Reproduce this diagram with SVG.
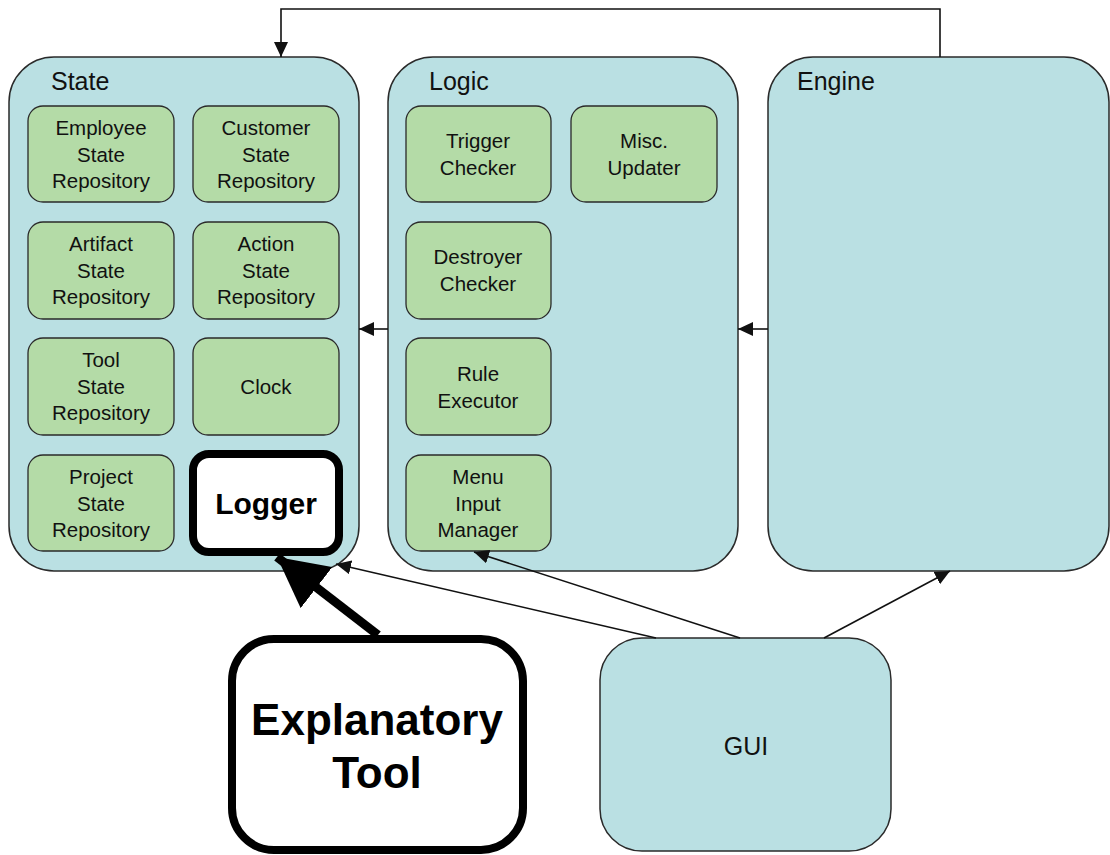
<svg xmlns="http://www.w3.org/2000/svg" width="1110" height="855" viewBox="0 0 1110 855">
<style>
.cont{fill:#bae0e3;stroke:#2a2a2a;stroke-width:1.5}
.box{fill:#b4dba7;stroke:#2a2a2a;stroke-width:1.3}
.hdr{font-family:"Liberation Sans",Arial,sans-serif;font-size:25px;fill:#111}
.t{font-family:"Liberation Sans",Arial,sans-serif;font-size:20.5px;fill:#111;text-anchor:middle}
.big{font-family:"Liberation Sans",Arial,sans-serif;font-weight:bold;fill:#000;text-anchor:middle}
.ln{fill:none;stroke:#111;stroke-width:1.6}
</style>
<defs>
<marker id="arr" markerUnits="userSpaceOnUse" markerWidth="16" markerHeight="14" refX="15" refY="7" orient="auto">
<path d="M0,0 L15,7 L0,14 z" fill="#111"/>
</marker>
<marker id="arrBig" markerUnits="userSpaceOnUse" markerWidth="52" markerHeight="52" refX="50" refY="26" orient="auto">
<path d="M0,0 L50,26 L0,52 z" fill="#000"/>
</marker>
</defs>
<rect width="1110" height="855" fill="#fff"/>

<g id="state">
<rect class="cont" x="9" y="57" width="350" height="514" rx="45"/>
<text class="hdr" x="51" y="90">State</text>
</g>
<g id="employee"><rect class="box" x="28" y="106" width="146" height="96" rx="15"/>
<text class="t" x="101" y="135">Employee</text><text class="t" x="101" y="162">State</text><text class="t" x="101" y="188">Repository</text></g>
<g id="customer"><rect class="box" x="193" y="106" width="146" height="96" rx="15"/>
<text class="t" x="266" y="135">Customer</text><text class="t" x="266" y="162">State</text><text class="t" x="266" y="188">Repository</text></g>
<g id="artifact"><rect class="box" x="28" y="222" width="146" height="97" rx="15"/>
<text class="t" x="101" y="251">Artifact</text><text class="t" x="101" y="278">State</text><text class="t" x="101" y="304">Repository</text></g>
<g id="action"><rect class="box" x="193" y="222" width="146" height="97" rx="15"/>
<text class="t" x="266" y="251">Action</text><text class="t" x="266" y="278">State</text><text class="t" x="266" y="304">Repository</text></g>
<g id="tool"><rect class="box" x="28" y="338" width="146" height="97" rx="15"/>
<text class="t" x="101" y="367">Tool</text><text class="t" x="101" y="394">State</text><text class="t" x="101" y="420">Repository</text></g>
<g id="clock"><rect class="box" x="193" y="338" width="146" height="97" rx="15"/>
<text class="t" x="266" y="394">Clock</text></g>
<g id="project"><rect class="box" x="28" y="455" width="146" height="96" rx="15"/>
<text class="t" x="101" y="484">Project</text><text class="t" x="101" y="511">State</text><text class="t" x="101" y="537">Repository</text></g>
<g id="logger"><rect x="193" y="454" width="146" height="98" rx="16" fill="#fff" stroke="#000" stroke-width="8"/>
<text class="big" x="266" y="514" style="font-size:30px">Logger</text></g>

<g id="logic">
<rect class="cont" x="388" y="57" width="350" height="514" rx="45"/>
<text class="hdr" x="429" y="90">Logic</text>
</g>
<g id="trigger"><rect class="box" x="406" y="106" width="145" height="96" rx="15"/>
<text class="t" x="478" y="148">Trigger</text><text class="t" x="478" y="175">Checker</text></g>
<g id="misc"><rect class="box" x="571" y="106" width="146" height="96" rx="15"/>
<text class="t" x="644" y="148">Misc.</text><text class="t" x="644" y="175">Updater</text></g>
<g id="destroyer"><rect class="box" x="406" y="222" width="145" height="97" rx="15"/>
<text class="t" x="478" y="264">Destroyer</text><text class="t" x="478" y="291">Checker</text></g>
<g id="rule"><rect class="box" x="406" y="338" width="145" height="97" rx="15"/>
<text class="t" x="478" y="381">Rule</text><text class="t" x="478" y="408">Executor</text></g>
<g id="menu"><rect class="box" x="406" y="455" width="145" height="96" rx="15"/>
<text class="t" x="478" y="484">Menu</text><text class="t" x="478" y="511">Input</text><text class="t" x="478" y="537">Manager</text></g>

<g id="engine">
<rect class="cont" x="768" y="57" width="341" height="514" rx="45"/>
<text class="hdr" x="797" y="90">Engine</text>
</g>

<g id="gui">
<rect class="cont" x="600" y="638" width="291" height="213" rx="42"/>
<text class="t" x="746" y="755" style="font-size:25px">GUI</text>
</g>

<g id="explanatory">
<rect x="232" y="639" width="291" height="211" rx="42" fill="#fff" stroke="#000" stroke-width="8"/>
<text class="big" x="377" y="735" style="font-size:44px">Explanatory</text>
<text class="big" x="377" y="788" style="font-size:44px">Tool</text>
</g>

<g id="connectors">
<path class="ln" d="M940,57 V9 H281 V57" marker-end="url(#arr)"/>
<path class="ln" d="M388,329 H359" marker-end="url(#arr)"/>
<path class="ln" d="M768,329 H738" marker-end="url(#arr)"/>
<path class="ln" d="M656,638 L336,564" marker-end="url(#arr)"/>
<path class="ln" d="M740,638 L474,552" marker-end="url(#arr)"/>
<path class="ln" d="M824,638 L950,571" marker-end="url(#arr)"/>
<path d="M378,635 L277,557" fill="none" stroke="#000" stroke-width="9" marker-end="url(#arrBig)"/>
</g>
</svg>
